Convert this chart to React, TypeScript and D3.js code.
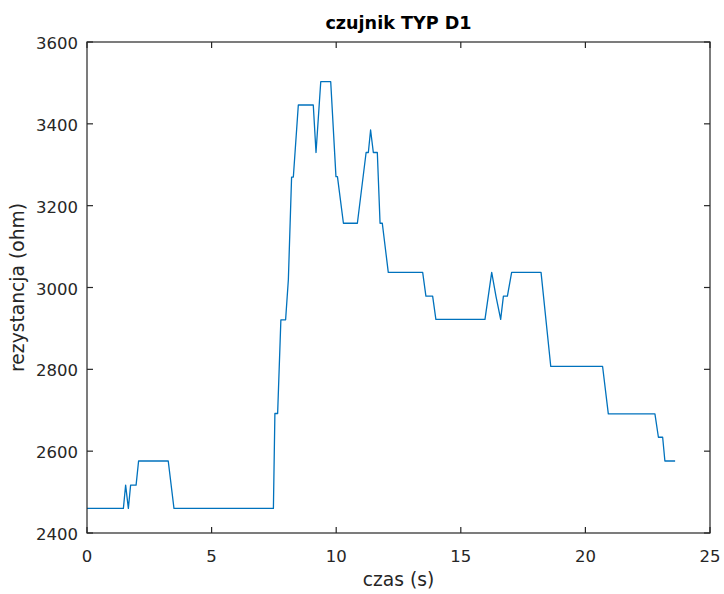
import React from "react";
import * as d3 from "d3";

const timeValues: number[] = [
  0, 1.46, 1.55, 1.66, 1.75, 1.97, 2.07, 3.26, 3.49, 7.48, 7.54, 7.65, 7.78, 7.97,
  8.08, 8.21, 8.28, 8.48, 9.08, 9.19, 9.38, 9.78, 9.99, 10.05, 10.29, 10.85, 11.2,
  11.29, 11.38, 11.49, 11.65, 11.76, 11.85, 12.09, 13.47, 13.6, 13.87, 14.0, 15.97,
  16.24, 16.41, 16.6, 16.71, 16.87, 17.04, 18.22, 18.61, 20.69, 20.92, 22.79, 22.93,
  23.1, 23.19, 23.6,
];
const resistanceValues: number[] = [
  2460, 2460, 2517, 2460, 2517, 2517, 2576, 2576, 2460, 2460, 2692, 2692, 2921, 2921,
  3019, 3270, 3270, 3446, 3446, 3330, 3503, 3503, 3271, 3271, 3157, 3157, 3330,
  3330, 3385, 3330, 3330, 3157, 3157, 3037, 3037, 2979, 2979, 2922, 2922,
  3037, 2979, 2922, 2979, 2979, 3037, 3037, 2807, 2807, 2691, 2691, 2634,
  2634, 2576, 2576,
];
const xTicks: number[] = [0, 5, 10, 15, 20, 25];
const yTicks: number[] = [2400, 2600, 2800, 3000, 3200, 3400, 3600];
const titleText = "czujnik TYP D1";
const xLabelText = "czas (s)";
const yLabelText = "rezystancja (ohm)";

export default function App() {
  const W = 724, H = 594;
  const left = 87, right = 710, top = 42, bottom = 533;
  const x = d3.scaleLinear().domain([0, 25]).range([left, right]);
  const y = d3.scaleLinear().domain([2400, 3600]).range([bottom, top]);
  const pts: [number, number][] = timeValues.map((t, i) => [t, resistanceValues[i]]);
  const line = d3.line<[number, number]>().x((d) => x(d[0])).y((d) => y(d[1]));
  const axisColor = "#262626";
  const font = "'DejaVu Sans', sans-serif";
  const tl = 6;
  return (
    <div style={{ position: "fixed", left: 0, top: 0 }}>
      <svg width={W} height={H} style={{ display: "block", background: "#fff" }}>
        <rect x={0} y={0} width={W} height={H} fill="#fff" />
        <path d={line(pts) || ""} fill="none" stroke="#0072BD" strokeWidth={1.3} strokeLinejoin="round" />
        {/* box */}
        <rect x={left} y={top} width={right - left} height={bottom - top} fill="none" stroke={axisColor} strokeWidth={1.2} />
        {xTicks.map((t) => (
          <g key={"x" + t}>
            <line x1={x(t)} x2={x(t)} y1={bottom} y2={bottom - tl} stroke={axisColor} strokeWidth={1.2} />
            <line x1={x(t)} x2={x(t)} y1={top} y2={top + tl} stroke={axisColor} strokeWidth={1.2} />
            <text x={x(t)} y={562} textAnchor="middle" fontFamily={font} fontSize={16.5} fill={axisColor}>{t}</text>
          </g>
        ))}
        {yTicks.map((v) => (
          <g key={"y" + v}>
            <line x1={left} x2={left + tl} y1={y(v)} y2={y(v)} stroke={axisColor} strokeWidth={1.2} />
            <line x1={right} x2={right - tl} y1={y(v)} y2={y(v)} stroke={axisColor} strokeWidth={1.2} />
            <text x={78} y={y(v) + 7} textAnchor="end" fontFamily={font} fontSize={16.5} fill={axisColor}>{v}</text>
          </g>
        ))}
        <text x={(left + right) / 2} y={29} textAnchor="middle" fontFamily={font} fontWeight="bold" fontSize={17.6} fill="#000">{titleText}</text>
        <text x={(left + right) / 2} y={586} textAnchor="middle" fontFamily={font} fontSize={18.7} fill={axisColor}>{xLabelText}</text>
        <text transform={`translate(24,${(top + bottom) / 2}) rotate(-90)`} textAnchor="middle" fontFamily={font} fontSize={18.7} fill={axisColor}>{yLabelText}</text>
      </svg>
    </div>
  );
}
